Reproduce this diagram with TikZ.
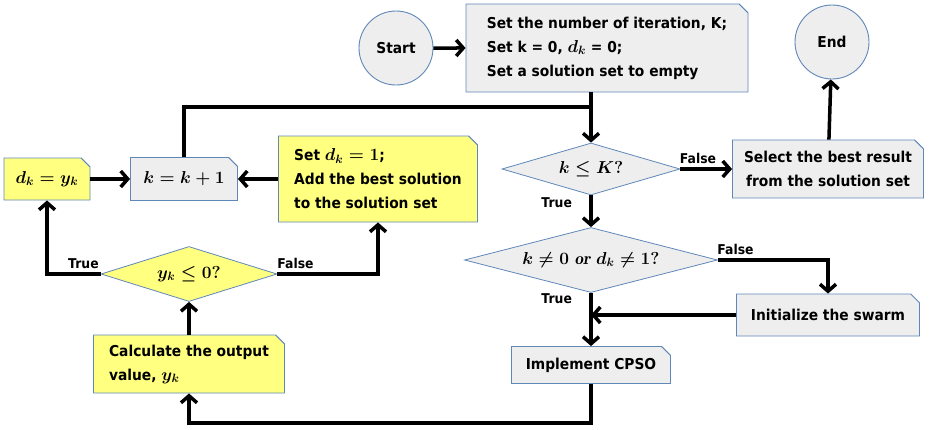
\documentclass[tikz,border=0pt]{standalone}
\usepackage{amsmath}
\usepackage{amssymb}
\usepackage{fontspec}
\newfontfamily\chartfont{DejaVu Sans}[FakeStretch=0.92]
\usetikzlibrary{shapes.geometric, shapes.misc, arrows.meta}
\definecolor{edgeblue}{RGB}{95,135,185}
\definecolor{boxgray}{RGB}{238,238,238}
\definecolor{boxyellow}{RGB}{255,255,128}
\tikzstyle{startstop} = [circle, minimum size=74pt, inner sep=0pt,
    text centered, draw=edgeblue, line width=0.9pt, fill=boxgray,
    font=\chartfont\bfseries\fontsize{15}{24}\selectfont]
\tikzstyle{process} = [chamfered rectangle, chamfered rectangle corners=north east,
    chamfered rectangle xsep=6pt, inner sep=0pt, draw=edgeblue, line width=0.9pt, fill=boxgray,
    font=\chartfont\bfseries\fontsize{15}{24}\selectfont]
\tikzstyle{processy} = [process, fill=boxyellow]
\tikzstyle{decision} = [diamond, inner sep=0pt, text centered,
    draw=edgeblue, line width=0.8pt, fill=boxgray]
\tikzstyle{decisiony} = [decision, fill=boxyellow]
\tikzstyle{link} = [line width=3.5pt, black]
\tikzstyle{arrow} = [link, -{Straight Barb[length=7pt,width=16pt]}]
\newcommand{\bigmath}[1]{{\LARGE\boldmath$#1$}}

\begin{document}
\begin{tikzpicture}[x=1pt, y=1pt,
    every node/.style={font=\chartfont\bfseries\fontsize{13.5}{16}\selectfont}]
                \useasboundingbox (0,0) rectangle (929,-429);
                \node (start) [startstop] at (396,-48) {Start};
                \node (init) [process, right of=start, node distance=211pt,
                    minimum width=282pt, minimum height=88pt, align=left]
                    {Set the number of iteration, K;\\Set k = 0, \bigmath{d_k} = 0;\\Set a solution set to empty};
                \node (stop) [startstop, right of=init, node distance=225pt, yshift=6pt] {End};
                \node (cond1) [decision, aspect=3.4, below of=init, node distance=121pt, xshift=-16pt,
                    minimum width=178pt, minimum height=52pt] {\bigmath{k \leq K?}};
                \node (select) [process, right of=cond1, node distance=237pt,
                    minimum width=191pt, minimum height=58pt, align=center]
                    {Select the best result\\from the solution set};
                \node (cond2) [decision, aspect=3.9, below of=cond1, node distance=91pt,
                    minimum width=253pt, minimum height=65pt] {\bigmath{k \neq 0 \ \mathit{or}\ d_k \neq 1?}};
                \node (swarm) [process, below of=select, node distance=146pt,
                    minimum width=183pt, minimum height=42pt] {Initialize the swarm};
                \node (cpso) [process, below of=cond2, node distance=105pt,
                    minimum width=159pt, minimum height=37pt] {Implement CPSO};
                \node (setd) [processy, left of=cond1, node distance=213pt, yshift=-10pt,
                    minimum width=199pt, minimum height=86pt, align=left]
                    {Set \bigmath{d_k = 1};\\Add the best solution\\to the solution set};
                \node (kinc) [process, left of=setd, node distance=194pt,
                    minimum width=107pt, minimum height=43pt] {\bigmath{k = k + 1}};
                \node (dk) [processy, left of=kinc, node distance=137pt,
                    minimum width=86pt, minimum height=42pt] {\bigmath{d_k = y_k}};
                \node (cond3) [decisiony, aspect=3.2, below of=kinc, node distance=95pt, xshift=5pt,
                    minimum width=176pt, minimum height=55pt] {\bigmath{y_k \leq 0?}};
                \node (calc) [processy, below of=cond3, node distance=90pt,
                    minimum width=191pt, minimum height=58pt, align=left]
                    {Calculate the output\\value, \bigmath{y_k}};

                \coordinate (join) at (cond1.north |- 0,-107);
                \coordinate (low) at (0,-423);

                \draw [arrow] (start) -- (init);
                \draw [arrow] (select) -- (stop);
                \draw [arrow] (init.south -| cond1.north) -- (cond1.north);
                \draw [link] (kinc.north) |- (join);
                \draw [arrow] (cond1.east) -- (select.west) node[pos=0.34, above] {False};
                \draw [arrow] (cond1.south) -- (cond2.north) node[pos=0.22, left=14pt] {True};
                \draw [arrow] (cond2.east) -| (swarm.north) node[pos=0.08, above] {False};
                \draw [arrow] (cond2.south) -- (cpso.north) node[pos=0.1, left=14pt] {True};
                \draw [arrow] (swarm.west) -- (swarm.west -| cpso.north);
                \draw [arrow] (cpso.south) -- (cpso.south |- low) -| (calc.south);
                \draw [arrow] (calc.north) -- (cond3.south);
                \draw [arrow] (cond3.west) -| (dk.south) node[pos=0.16, above] {True};
                \draw [arrow] (cond3.east) -| (setd.south) node[pos=0.09, above] {False};
                \draw [arrow] (dk.east) -- (kinc.west);
                \draw [arrow] (setd.west) -- (setd.west -| kinc.east);
            \end{tikzpicture}
\end{document}
